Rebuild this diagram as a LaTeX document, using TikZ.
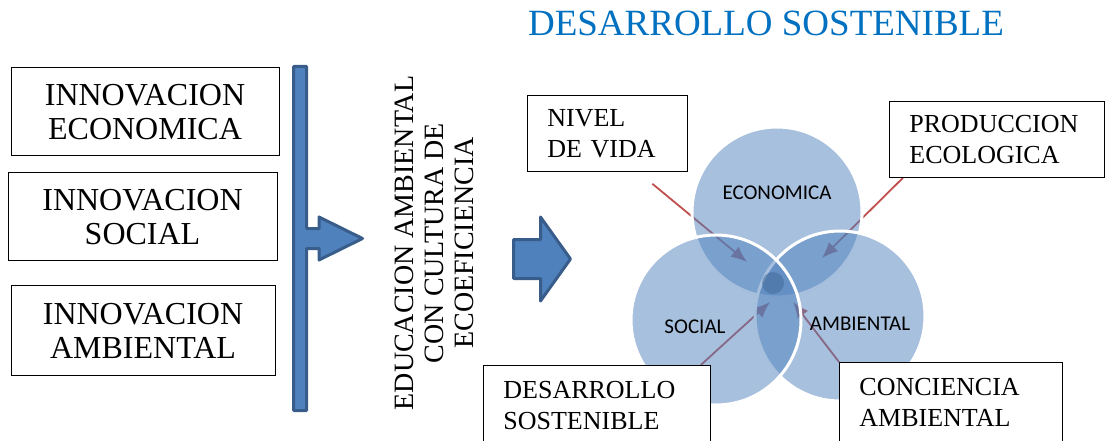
\documentclass[tikz,border=0pt]{standalone}
\usepackage{fontspec}
\setmainfont{Liberation Serif}
\newfontfamily\calibri{Carlito}
\usetikzlibrary{arrows.meta,backgrounds}
\definecolor{vennblue}{RGB}{79,129,189}
\definecolor{arrowblue}{RGB}{56,93,138}
\definecolor{arrowred}{RGB}{192,80,77}
\definecolor{titleblue}{RGB}{0,112,192}
\begin{document}
\begin{tikzpicture}[x={(1pt,0)},y={(0,-1pt)},inner sep=0pt,
innov/.style={draw,line width=0.8pt,fill=white,align=center,font=\fontsize{32}{34}\selectfont},
caja/.style={draw,line width=0.8pt,fill=white,anchor=north west,align=left,inner xsep=20pt,font=\fontsize{26}{31}\selectfont},
venn/.style={circle,fill=vennblue,fill opacity=0.5,draw=white,line width=3pt,minimum size=170pt},
vlab/.style={font=\calibri\fontsize{21}{24}\selectfont},
flecha/.style={arrowred,line width=1.8pt,-{Latex[length=16pt,width=13pt]}},
bloque/.style={fill=vennblue,draw=arrowblue,line width=3pt,line join=round}]
\useasboundingbox (0,0) rectangle (1106,441);
\clip (0,0) rectangle (1106,441);
\node[anchor=base,text=titleblue,font=\fontsize{37}{40}\selectfont] (tit) at (766,36) {DESARROLLO SOSTENIBLE};
\node[innov,minimum width=268pt,minimum height=88pt] (ie) at (145,111) {\strut INNOVACION\\ECONOMICA};
\node[innov,minimum width=269pt,minimum height=88pt] (is) at (142.5,216) {\strut INNOVACION\\SOCIAL};
\node[innov,minimum width=264pt,minimum height=90pt] (ia) at (143,330) {\strut INNOVACION\\AMBIENTAL};
\draw[bloque] (293.5,66.5) -- (306.5,66.5) -- (306.5,228.5) -- (319,228.5) -- (319,217) -- (362.5,238.5)
-- (319,260) -- (319,248.5) -- (306.5,248.5) -- (306.5,410.5) -- (293.5,410.5) -- cycle;
\node[rotate=90,align=center,font=\fontsize{28}{30}\selectfont] (edu) at (434,243) {EDUCACION AMBIENTAL\\CON CULTURA DE\\ECOEFICIENCIA};
\draw[bloque] (513.5,239.5) -- (540.5,239.5) -- (540.5,217) -- (570.5,259) -- (540.5,301) -- (540.5,278.5)
-- (513.5,278.5) -- cycle;
\node[venn] (eco) at (777,212) {};
\node[venn] (amb) at (840,316) {};
\node[venn] (soc) at (716,320) {};
\node[circle,fill=vennblue!80!black,fill opacity=0.5,minimum size=22pt] (nucleo) at (773,283) {};
\node[vlab] (leco) at ([shift={(0,-19)}]eco) {ECONOMICA};
\node[vlab] (lsoc) at ([shift={(-21,7)}]soc) {SOCIAL};
\node[vlab] (lamb) at ([shift={(20,8)}]amb) {AMBIENTAL};
\node[caja,text width=120pt,minimum height=76pt] (nivel) at (527,95) {NIVEL\\DE VIDA};
\node[caja,text width=175pt,minimum height=76pt] (prod) at (889,101) {PRODUCCION\\ECOLOGICA};
\node[caja,text width=187pt,minimum height=80pt] (des) at (483,365) {DESARROLLO\\SOSTENIBLE};
\node[caja,text width=183pt,minimum height=80pt] (con) at (839,362) {CONCIENCIA\\AMBIENTAL};
\coordinate (t1) at (747,262);
\coordinate (t2) at (822,258);
\coordinate (t3) at (770,302);
\coordinate (t4) at (793,302);
\begin{scope}[on background layer]
\draw[flecha] ([shift={(45,12)}]nivel.south) -- (t1);
\draw[flecha] ([shift={(14,0)}]prod.south west) -- (t2);
\draw[flecha] ([shift={(-10,0)}]des.north east) -- (t3);
\draw[flecha] (con.north west) -- (t4);
\end{scope}
\end{tikzpicture}
\end{document}
